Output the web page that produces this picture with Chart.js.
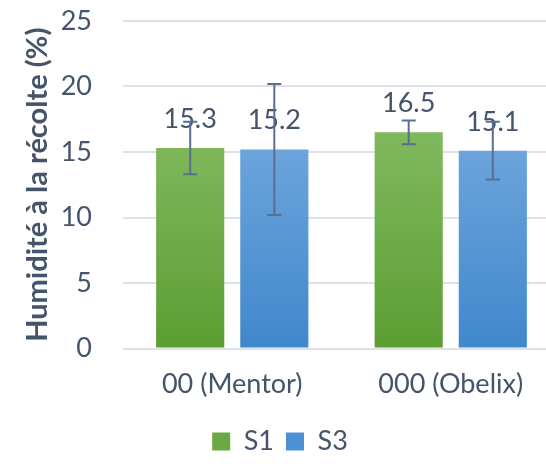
<!DOCTYPE html>
<html>
<head>
<meta charset="utf-8">
<script src="https://cdn.jsdelivr.net/npm/chart.js@4.4.1/dist/chart.umd.min.js"></script>
<style>
  html, body { margin: 0; padding: 0; background: #fff; overflow: hidden; }
  #wrap { width: 580px; height: 466px; }
</style>
</head>
<body>
<div id="wrap"><canvas id="humChart"></canvas></div>
<script>
const categories = ["00 (Mentor)", "000 (Obelix)"];
const seriesNames = ["S1", "S3"];
const valuesS1 = [15.3, 16.5];
const valuesS3 = [15.2, 15.1];
const errorsS1 = [2.0, 0.9];
const errorsS3 = [5.0, 2.2];

const textColor = "#44546a";
const fontName = "Lato";

// vertical gradient across the chart area, like the Office fill
function barGradient(topColor, bottomColor) {
    return function (context) {
        const chart = context.chart;
        const area = chart.chartArea;
        if (!area) return bottomColor;
        const g = chart.ctx.createLinearGradient(0, area.top + 110, 0, area.bottom);
        g.addColorStop(0, topColor);
        g.addColorStop(1, bottomColor);
        return g;
    };
}

// value labels above the bars, then the error bars over them
const labelsAndErrors = {
    id: 'labelsAndErrors',
    afterDatasetsDraw(chart) {
        const ctx = chart.ctx;
        const yScale = chart.scales.y;
        const errs = [errorsS1, errorsS3];
        ctx.save();
        ctx.font = "27px " + fontName;
        ctx.fillStyle = textColor;
        ctx.textAlign = "center";
        ctx.textBaseline = "alphabetic";
        chart.data.datasets.forEach((ds, i) => {
            chart.getDatasetMeta(i).data.forEach((bar, j) => {
                ctx.fillText(ds.data[j].toFixed(1), bar.x, bar.y - 20);
            });
        });
        ctx.strokeStyle = "#5a6f8f";
        ctx.lineWidth = 2;
        chart.data.datasets.forEach((ds, i) => {
            chart.getDatasetMeta(i).data.forEach((bar, j) => {
                const v = ds.data[j];
                const e = errs[i][j];
                const yTop = yScale.getPixelForValue(v + e);
                const yBot = yScale.getPixelForValue(v - e);
                ctx.beginPath();
                ctx.moveTo(bar.x, yTop);
                ctx.lineTo(bar.x, yBot);
                ctx.moveTo(bar.x - 7, yTop);
                ctx.lineTo(bar.x + 7, yTop);
                ctx.moveTo(bar.x - 7, yBot);
                ctx.lineTo(bar.x + 7, yBot);
                ctx.stroke();
            });
        });
        ctx.restore();
    }
};

const ctx = document.getElementById('humChart').getContext('2d');
const chart = new Chart(ctx, {
    type: 'bar',
    data: {
        labels: categories,
        datasets: [
            {
                label: seriesNames[0],
                data: valuesS1,
                backgroundColor: barGradient("#80b95e", "#5c9e32"),
                barPercentage: 0.81,
                categoryPercentage: 0.77
            },
            {
                label: seriesNames[1],
                data: valuesS3,
                backgroundColor: barGradient("#70a6de", "#3f88cc"),
                barPercentage: 0.81,
                categoryPercentage: 0.77
            }
        ]
    },
    options: {
        responsive: true,
        maintainAspectRatio: false,
        animation: false,
        layout: { padding: { top: 21, right: 20, left: 0, bottom: 1 } },
        plugins: {
            legend: {
                position: 'bottom',
                labels: {
                    color: textColor,
                    font: { family: fontName, size: 27 },
                    boxWidth: 18,
                    boxHeight: 18,
                    padding: 12,
                    generateLabels(chart) {
                        const colors = ["#6aa843", "#4d90d4"];
                        return chart.data.datasets.map((ds, i) => ({
                            text: ds.label,
                            fillStyle: colors[i],
                            strokeStyle: colors[i],
                            lineWidth: 0,
                            fontColor: textColor,
                            datasetIndex: i
                        }));
                    }
                }
            },
            tooltip: { enabled: false }
        },
        scales: {
            x: {
                afterFit(scale) { scale.height = 67.5; },
                grid: { display: false, drawTicks: false },
                border: { display: false },
                ticks: {
                    color: textColor,
                    font: { family: fontName, size: 27 },
                    padding: 20
                }
            },
            y: {
                min: 0,
                max: 25,
                afterFit(scale) { scale.width = 123; },
                grid: { color: "#dde2e9", lineWidth: 2, drawTicks: true, tickLength: 31, tickColor: "rgba(0,0,0,0)" },
                border: { display: false },
                ticks: {
                    stepSize: 5,
                    color: textColor,
                    font: { family: fontName, size: 27 },
                    padding: 0
                },
                title: {
                    display: true,
                    text: "Humidité à la récolte (%)",
                    color: textColor,
                    font: { family: fontName, size: 29, weight: 'bold' },
                    padding: { top: 20, bottom: 0 }
                }
            }
        }
    },
    plugins: [labelsAndErrors]
});
</script>
</body>
</html>
